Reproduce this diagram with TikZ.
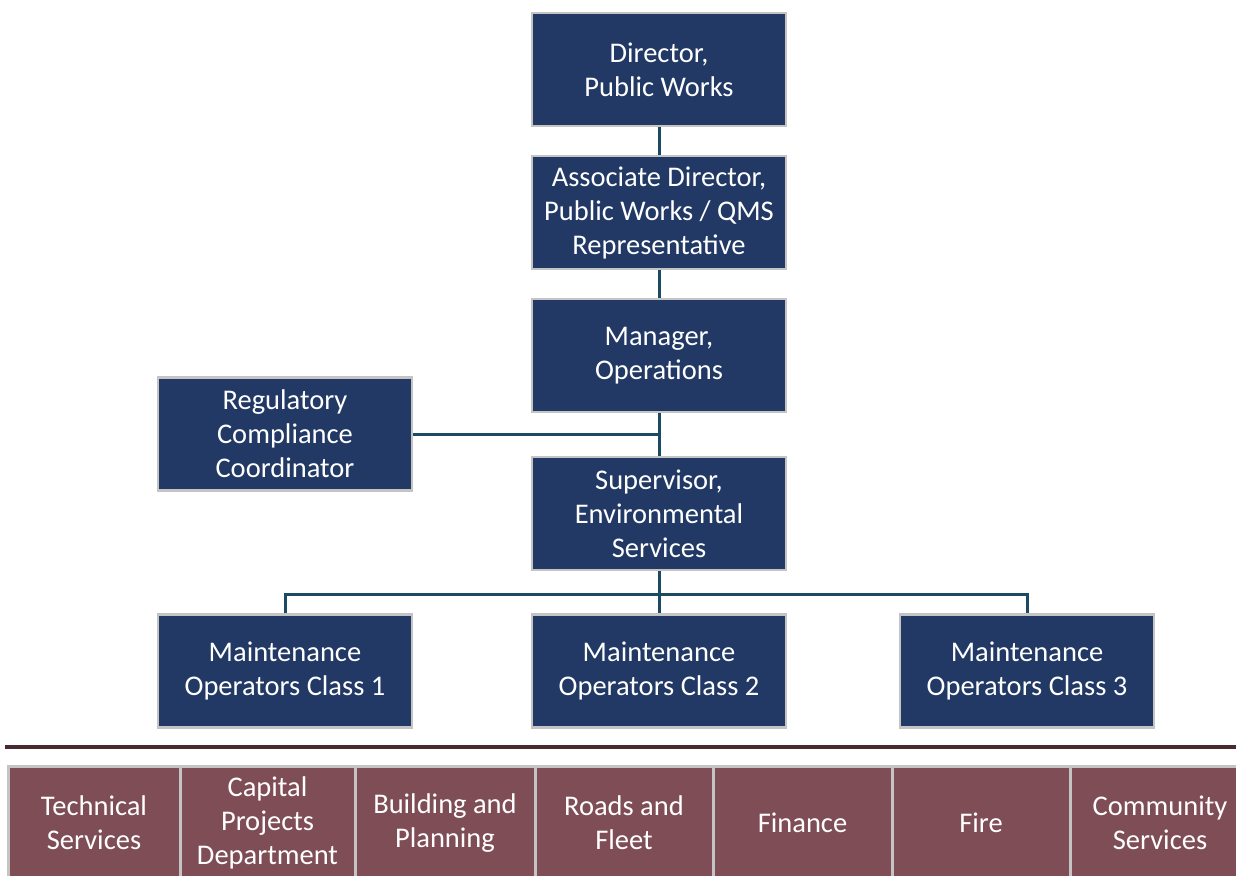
\documentclass[tikz,border=0pt]{standalone}
\usepackage{fontspec}
\setmainfont{Carlito}
\definecolor{navy}{HTML}{213964}
\definecolor{boxedge}{HTML}{C4C4C4}
\definecolor{link}{HTML}{1B4A63}
\definecolor{maroon}{HTML}{7F4D55}
\definecolor{rule}{HTML}{4A2A31}
\tikzset{
  role/.style={rectangle, fill=navy, draw=boxedge, line width=2.5pt,
    minimum width=254pt, minimum height=113pt, text=white, align=center,
    inner sep=2pt, font=\fontsize{28.5pt}{34pt}\selectfont},
  dept/.style={rectangle, fill=maroon, draw=boxedge, line width=3pt,
    minimum height=114pt, text=white, align=center, inner sep=2pt,
    font=\fontsize{28.5pt}{34pt}\selectfont},
  wire/.style={draw=link, line width=3pt}
}
\begin{document}
\begin{tikzpicture}[x=1pt, y=-1pt]
\useasboundingbox (0,0) rectangle (1236,875);
\begin{scope}
\clip (0,0) rectangle (1236,875);

% reporting chain
\node[role] (dir) at (659,69.5) {Director,\\Public Works};
\node[role] (assoc) at (659,212.5) {Associate Director,\\Public Works / QMS\\Representative};
\node[role] (mgr) at (659,355.5) {Manager,\\Operations};
\node[role] (reg) at (285,434) {Regulatory\\Compliance\\Coordinator};
\node[role] (sup) at (659,513.5) {Supervisor,\\Environmental\\Services};
\node[role] (op1) at (285,671) {Maintenance\\Operators Class 1};
\node[role] (op2) at (659,671) {Maintenance\\Operators Class 2};
\node[role] (op3) at (1027,671) {Maintenance\\Operators Class 3};

\coordinate (regjoin) at (mgr.south |- reg.east);
\coordinate (bus) at (659,594);

\draw[wire] (dir) -- (assoc);
\draw[wire] (assoc) -- (mgr);
\draw[wire] (mgr) -- (sup);
\draw[wire] (reg.east) -- (regjoin);
\draw[wire] (sup) -- (op2);
\draw[wire] (op1.north) |- (bus) -| (op3.north);

% divider
\draw[draw=rule, line width=4.5pt] (5,747) -- (1236,747);

% departments
\node[dept, minimum width=172pt] (d1) at (94,823) {Technical\\Services};
\node[dept, minimum width=175pt] (d2) at (267.5,823) {Capital\\Projects\\Department};
\node[dept, minimum width=180pt] (d3) at (445,823) {Building and\\Planning};
\node[dept, minimum width=178pt] (d4) at (624,823) {Roads and\\Fleet};
\node[dept, minimum width=179pt] (d5) at (802.5,823) {Finance};
\node[dept, minimum width=178pt] (d6) at (981,823) {Fire};
\node[dept, minimum width=180pt] (d7) at (1160,823) {Community\\Services};
\end{scope}
\end{tikzpicture}
\end{document}
